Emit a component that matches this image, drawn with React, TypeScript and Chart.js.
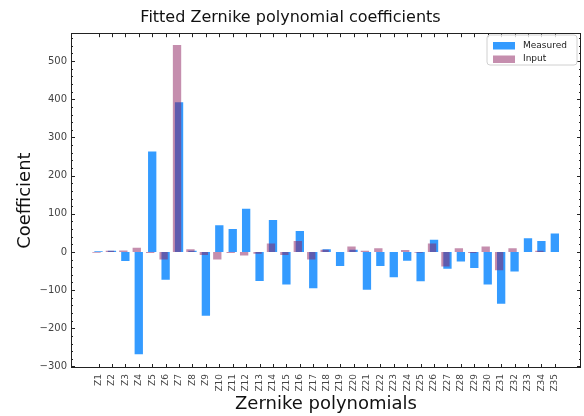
import React, { useEffect, useRef } from "react";
import { Chart, registerables } from "chart.js";

Chart.register(...registerables);

const LABELS = Array.from({ length: 35 }, (_, i) => "Z" + (i + 1));
const MEASURED = [2, 3, -24, -268, 263, -73, 392, 3, -167, 70, 60, 113, -76, 84, -85, 55, -95, 7, -37, 6, -99, -37, -66, -23, -77, 32, -44, -25, -42, -85, -136, -51, 36, 29, 48];
const INPUT = [-2, 3, 4, 11, -3, -20, 542, 7, -8, -20, -3, -9, -5, 22, -8, 29, -20, 6, 0, 14, 3, 10, 0, 5, -2, 22, -38, 10, -3, 14, -48, 10, 0, 3, 0];
const Y_TICKS = [-300, -200, -100, 0, 100, 200, 300, 400, 500];

const X_MIN = -1.05;
const X_MAX = 36.95;
const Y_MIN = -304;
const Y_MAX = 573;
const SHIFT = 0.15;

const BLUE = "rgba(30,144,255,0.9)";
const PURPLE = "rgba(139,30,93,0.5)";

const framePlugin = {
  id: "frame",
  afterDraw(chart: any) {
    const { ctx, chartArea } = chart;
    const { left, right, top, bottom } = chartArea;
    const x = chart.scales.x;
    const y = chart.scales.y;
    ctx.save();
    ctx.strokeStyle = "#222";
    ctx.lineWidth = 1;
    ctx.strokeRect(Math.round(left) + 0.5, Math.round(top) + 0.5, Math.round(right - left) - 1, Math.round(bottom - top) - 1);
    ctx.beginPath();
    for (let v = -300; v <= 560; v += 20) {
      const py = Math.round(y.getPixelForValue(v)) + 0.5;
      const len = v % 100 === 0 ? 4 : 2;
      ctx.moveTo(left, py);
      ctx.lineTo(left + len, py);
      ctx.moveTo(right, py);
      ctx.lineTo(right - len, py);
    }
    LABELS.forEach((_, i) => {
      const px = Math.round(x.getPixelForValue(i + 1)) + 0.5;
      ctx.moveTo(px, bottom);
      ctx.lineTo(px, bottom - 4);
      ctx.moveTo(px, top);
      ctx.lineTo(px, top + 4);
    });
    ctx.stroke();

    // legend
    const lx = 487, ly = 35, lw = 90, lh = 30, r = 3;
    ctx.beginPath();
    ctx.moveTo(lx + r, ly);
    ctx.arcTo(lx + lw, ly, lx + lw, ly + lh, r);
    ctx.arcTo(lx + lw, ly + lh, lx, ly + lh, r);
    ctx.arcTo(lx, ly + lh, lx, ly, r);
    ctx.arcTo(lx, ly, lx + lw, ly, r);
    ctx.closePath();
    ctx.fillStyle = "rgba(255,255,255,0.8)";
    ctx.fill();
    ctx.strokeStyle = "#d0d0d0";
    ctx.stroke();
    const items = [
      { text: "Measured", color: BLUE },
      { text: "Input", color: PURPLE },
    ];
    ctx.font = "9px 'DejaVu Sans'";
    ctx.textBaseline = "middle";
    ctx.textAlign = "left";
    items.forEach((it, i) => {
      const cy = 45.5 + i * 13.5;
      ctx.fillStyle = it.color;
      ctx.fillRect(493, cy - 3.5, 22, 7.5);
      ctx.fillStyle = "#222";
      ctx.fillText(it.text, 523, cy);
    });
    ctx.restore();
  },
};

export default function App() {
  const ref = useRef<HTMLCanvasElement>(null);
  useEffect(() => {
    document.body.style.margin = "0";
    Chart.defaults.font.family = "'DejaVu Sans', sans-serif";
    const chart = new Chart(ref.current as HTMLCanvasElement, {
      type: "bar",
      data: {
        datasets: [
          {
            label: "Measured",
            data: MEASURED.map((v, i) => ({ x: i + 1, y: v })),
            backgroundColor: BLUE,
            borderWidth: 0,
            xAxisID: "x",
            categoryPercentage: 1,
            barPercentage: 0.62,
            grouped: false,
            order: 1,
          },
          {
            label: "Input",
            data: INPUT.map((v, i) => ({ x: i + 1, y: v })),
            backgroundColor: PURPLE,
            borderWidth: 0,
            xAxisID: "x2",
            categoryPercentage: 1,
            barPercentage: 0.62,
            grouped: false,
            order: 0,
          },
        ] as any,
      },
      options: {
        animation: false,
        responsive: false,
        layout: { padding: { left: 0, right: 3, top: 0, bottom: 0 } },
        plugins: {
          legend: { display: false },
          tooltip: { enabled: false },
          title: {
            display: true,
            text: "Fitted Zernike polynomial coefficients",
            font: { size: 16, weight: "normal" },
            color: "#111",
            padding: { top: 8, bottom: 6 },
          },
        },
        scales: {
          x: {
            type: "linear",
            position: "bottom",
            offset: false,
            min: X_MIN,
            max: X_MAX,
            grid: { display: false, drawTicks: false, offset: false },
            border: { display: false },
            afterBuildTicks: (s: any) => {
              s.ticks = LABELS.map((_, i) => ({ value: i + 1 }));
            },
            afterFit: (s: any) => {
              s.height = 48;
            },
            ticks: {
              autoSkip: false,
              maxRotation: 90,
              minRotation: 90,
              padding: 6,
              color: "#444",
              font: { size: 9 },
              callback: (v: any) => LABELS[Math.round(v) - 1] ?? "",
            },
            title: {
              display: true,
              text: "Zernike polynomials",
              font: { size: 18 },
              color: "#111",
              padding: { top: 0, bottom: 1 },
            },
          },
          x2: {
            type: "linear",
            position: "bottom",
            display: true,
            offset: false,
            min: X_MIN + SHIFT,
            max: X_MAX + SHIFT,
            grid: { display: false, drawTicks: false, offset: false },
            border: { display: false },
            ticks: { display: false },
            title: { display: false },
            afterFit: (s: any) => {
              s.height = 0;
            },
          },
          y: {
            type: "linear",
            min: Y_MIN,
            max: Y_MAX,
            grid: { display: false, drawTicks: false },
            border: { display: false },
            afterBuildTicks: (s: any) => {
              s.ticks = Y_TICKS.map((v) => ({ value: v }));
            },
            afterFit: (s: any) => {
              s.width = 71;
            },
            ticks: {
              padding: 4,
              color: "#444",
              font: { size: 10 },
              callback: (v: any) => String(v).replace("-", "\u2212"),
            },
            title: {
              display: true,
              text: "Coefficient",
              font: { size: 18 },
              color: "#111",
              padding: { top: 15, bottom: 0 },
            },
          },
        } as any,
      },
      plugins: [framePlugin],
    });
    return () => chart.destroy();
  }, []);
  return (
    <div style={{ width: 584, height: 416 }}>
      <canvas ref={ref} width={584} height={416} />
    </div>
  );
}
